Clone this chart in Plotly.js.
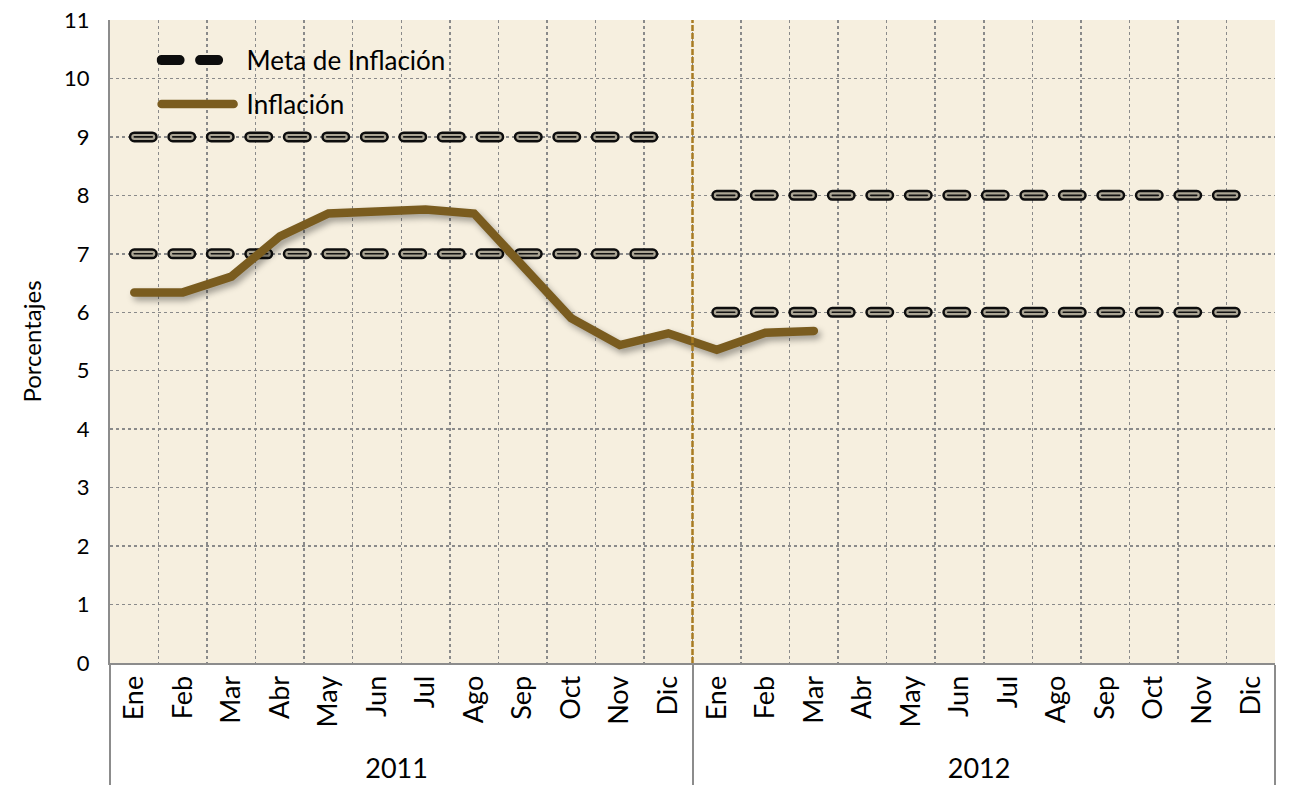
<!DOCTYPE html>
<html>
<head>
<meta charset="utf-8">
<script src="https://cdn.plot.ly/plotly-3.0.1.min.js"></script>
<style>
  html, body { margin: 0; padding: 0; background: #ffffff; }
  #chart { width: 1293px; height: 793px; }
  .scatterlayer .js-line, .legend .js-line { stroke-linecap: round; }
</style>
</head>
<body>
<div id="chart"></div>
<script>
// ---- Data ----
const months = ['Ene','Feb','Mar','Abr','May','Jun','Jul','Ago','Sep','Oct','Nov','Dic'];
const years = ['2011','2012'];
const inflacion2011 = [6.34, 6.34, 6.61, 7.30, 7.69, 7.71, 7.76, 7.69, 6.78, 5.90, 5.44, 5.64];
const inflacion2012 = [5.36, 5.65, 5.68];
const metaSuperior2011 = [9,9,9,9,9,9,9,9,9,9,9,9];
const metaInferior2011 = [7,7,7,7,7,7,7,7,7,7,7,7];
const metaSuperior2012 = [8,8,8,8,8,8,8,8,8,8,8,8];
const metaInferior2012 = [6,6,6,6,6,6,6,6,6,6,6,6];
const nombreMeta = 'Meta de Inflación';
const nombreInflacion = 'Inflación';
const tituloY = 'Porcentajes';

// ---- Helpers ----
function xFor(year, n) {
  const m = months.slice(0, n);
  return [m.map(() => year), m];
}
const dashPattern = '18px,20.5px';
const metaLayers = [
  { color: '#0d0d0d', width: 11 },
  { color: '#ABA594', width: 6 },
  { color: '#111111', width: 1.6 }
];
const metaSeries = [
  { year: years[0], values: metaSuperior2011 },
  { year: years[0], values: metaInferior2011 },
  { year: years[1], values: metaSuperior2012 },
  { year: years[1], values: metaInferior2012 }
];

const traces = [];
metaSeries.forEach((s, si) => {
  metaLayers.forEach((L, li) => {
    traces.push({
      type: 'scatter',
      mode: 'lines',
      x: xFor(s.year, s.values.length),
      y: s.values,
      name: nombreMeta,
      legendgroup: 'meta',
      showlegend: si === 0 && li === 0,
      line: { color: L.color, width: L.width, dash: dashPattern },
      hoverinfo: 'skip'
    });
  });
});

const infX = [
  xFor(years[0], inflacion2011.length)[0].concat(xFor(years[1], inflacion2012.length)[0]),
  xFor(years[0], inflacion2011.length)[1].concat(xFor(years[1], inflacion2012.length)[1])
];
traces.push({
  type: 'scatter',
  mode: 'lines',
  x: infX,
  y: inflacion2011.concat(inflacion2012),
  name: nombreInflacion,
  legendgroup: 'inf',
  line: { color: '#7A5C1F', width: 8.5 },
  hoverinfo: 'skip'
});

const font = 'Lato, "Open Sans", "DejaVu Sans", sans-serif';

const layout = {
  width: 1293,
  height: 793,
  margin: { l: 110, r: 18, t: 20, b: 130 },
  paper_bgcolor: '#ffffff',
  plot_bgcolor: '#F6EFDF',
  font: { family: font, color: '#000000', size: 22 },
  showlegend: true,
  legend: {
    x: 0.04, y: 0.974, xanchor: 'left', yanchor: 'top',
    bgcolor: 'rgba(0,0,0,0)',
    font: { family: font, size: 26, color: '#000' },
    tracegroupgap: 7,
    traceorder: 'grouped',
    itemwidth: 80
  },
  xaxis: {
    type: 'multicategory',
    range: [-0.5, 23.5],
    autorange: false,
    tickson: 'boundaries',
    showgrid: true,
    gridcolor: '#8a8a8a',
    griddash: 'dot',
    gridwidth: 1.5,
    showline: true,
    linecolor: '#8c8c8c',
    linewidth: 2,
    ticks: '',
    tickangle: -90,
    tickfont: { family: font, size: 27, color: '#000' },
    showdividers: true,
    dividercolor: '#8c8c8c',
    dividerwidth: 2,
    zeroline: false
  },
  yaxis: {
    range: [0, 11],
    dtick: 1,
    showgrid: true,
    gridcolor: '#8a8a8a',
    griddash: 'dot',
    gridwidth: 1.5,
    showline: true,
    linecolor: '#8c8c8c',
    linewidth: 2,
    ticks: 'outside',
    ticklen: 14,
    tickcolor: 'rgba(0,0,0,0)',
    tickfont: { family: font, size: 22, color: '#000' },
    zeroline: false,
    title: { text: tituloY, font: { family: font, size: 24, color: '#000' }, standoff: 16 }
  },
  shapes: [{
    type: 'line', xref: 'paper', yref: 'paper',
    x0: 0.5, x1: 0.5, y0: 0, y1: 1,
    line: { color: '#A87B22', width: 2.5, dash: '6px,2px' },
    layer: 'above'
  }]
};

Plotly.newPlot('chart', traces, layout, { displayModeBar: false, staticPlot: true }).then(gd => {
  const tr = gd.querySelectorAll('.scatterlayer .trace');
  const last = tr[tr.length - 1];
  if (last) last.style.filter = 'drop-shadow(3px 4px 3px rgba(0,0,0,0.35))';
  // lengthen legend symbols to match the reference's wider legend keys
  gd.querySelectorAll('.legend .legendlines path').forEach(p => p.setAttribute('d', 'M5,0h72'));
});
</script>
</body>
</html>
